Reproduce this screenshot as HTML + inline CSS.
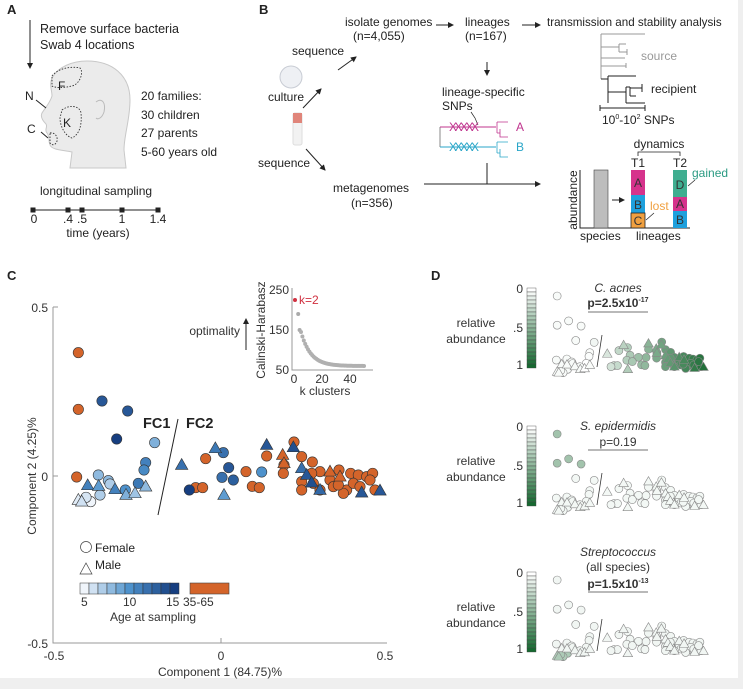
<!DOCTYPE html>
<html><head><meta charset="utf-8"><style>
html,body{margin:0;padding:0;background:#efefef;}
svg{display:block;font-family:"Liberation Sans",sans-serif;}
</style></head><body>
<svg id="s" width="743" height="689" viewBox="0 0 743 689" xmlns="http://www.w3.org/2000/svg">
<defs>
<marker id="ah" markerWidth="6" markerHeight="6" refX="5" refY="3" orient="auto" markerUnits="userSpaceOnUse"><path d="M0,0 L6,3 L0,6 z" fill="#222"/></marker>
</defs>
<rect x="0" y="0" width="738" height="678" fill="#fff"/>
<g font-size="12" fill="#222">
<!-- Panel A -->
<text x="7" y="14" font-weight="bold" font-size="13">A</text>
<line x1="30" y1="20" x2="30" y2="68" stroke="#222" stroke-width="1" marker-end="url(#ah)"/>
<text x="40" y="33" font-size="12.5">Remove surface bacteria</text>
<text x="40" y="49" font-size="12.5">Swab 4 locations</text>
<path d="M87,61 C112,61 130,75 130,100 C130,120 124,135 124,150 L126,168 L70,168 L72,152 C62,150 52,150 50,145 C48,140 50,137 47,133 C44,130 48,127 46,124 C43,121 40,117 42,113 C45,108 50,103 52,96 C52,90 49,85 52,78 C58,67 72,61 87,61 Z" fill="#ebebeb" stroke="#c8c8c8" stroke-width="1"/>
<path d="M96,102 C102,97 106,103 104,112 C102,118 98,120 96,118" fill="none" stroke="#bbb"/>
<path d="M52,76 C58,68 72,66 80,68 C84,72 80,84 72,86 C64,88 55,88 52,86 Z" fill="none" stroke="#333" stroke-dasharray="1.5,1.5" stroke-width="0.9"/>
<path d="M62,110 C70,104 80,106 81,113 C82,124 80,134 72,138 C65,136 60,126 60,118 Z" fill="none" stroke="#333" stroke-dasharray="1.5,1.5" stroke-width="0.9"/>
<path d="M50,133 C55,132 58,137 57,141 C56,145 52,146 50,143 Z" fill="none" stroke="#333" stroke-dasharray="1.5,1.5" stroke-width="0.9"/>
<text x="58" y="90">F</text><text x="25" y="100">N</text><text x="63" y="127">K</text><text x="27" y="133">C</text>
<line x1="36" y1="100" x2="46" y2="108" stroke="#222"/>
<line x1="41" y1="132" x2="48" y2="138" stroke="#222"/>
<text x="141" y="100">20 families:</text>
<text x="141" y="119">30 children</text>
<text x="141" y="137">27 parents</text>
<text x="141" y="156">5-60 years old</text>
<text x="40" y="195">longitudinal sampling</text>
<line x1="33" y1="210" x2="158" y2="210" stroke="#222"/>
<g fill="#222"><rect x="30.5" y="207.5" width="5" height="5"/><rect x="65.5" y="207.5" width="5" height="5"/><rect x="79.5" y="207.5" width="5" height="5"/><rect x="119.5" y="207.5" width="5" height="5"/><rect x="155.5" y="207.5" width="5" height="5"/></g>
<g text-anchor="middle"><text x="34" y="223">0</text><text x="68" y="223">.4</text><text x="82" y="223">.5</text><text x="122" y="223">1</text><text x="158" y="223">1.4</text><text x="98" y="237">time (years)</text></g>

<!-- Panel B -->
<text x="259" y="14" font-weight="bold" font-size="13">B</text>
<text x="345" y="26">isolate genomes</text>
<text x="353" y="40">(n=4,055)</text>
<line x1="436" y1="25" x2="453" y2="25" stroke="#222" marker-end="url(#ah)"/>
<text x="465" y="26">lineages</text><text x="465" y="40">(n=167)</text>
<line x1="522" y1="25" x2="540" y2="25" stroke="#222" marker-end="url(#ah)"/>
<text x="547" y="26" font-size="11.6">transmission and stability analysis</text>
<text x="292" y="55">sequence</text>
<line x1="338" y1="70" x2="356" y2="57" stroke="#222" marker-end="url(#ah)"/>
<circle cx="291" cy="77" r="11" fill="#eef0f4" stroke="#c8ccd4"/>
<text x="268" y="101">culture</text>
<line x1="303" y1="108" x2="321" y2="89" stroke="#222" marker-end="url(#ah)"/>
<rect x="293" y="113" width="9" height="32" rx="2" fill="#f2f2f2" stroke="#ddd"/>
<rect x="293" y="113" width="9" height="10" fill="#e0857a"/>
<text x="258" y="167">sequence</text>
<line x1="306" y1="149" x2="325" y2="170" stroke="#222" marker-end="url(#ah)"/>
<text x="333" y="192">metagenomes</text><text x="351" y="207">(n=356)</text>
<line x1="487" y1="62" x2="487" y2="75" stroke="#222" marker-end="url(#ah)"/>
<text x="442" y="96">lineage-specific</text><text x="442" y="110">SNPs</text>
<path d="M471,112 L475,118 L478,125" fill="none" stroke="#222" stroke-width="0.7"/>
<path d="M440,127 L440,147" stroke="#888"/>
<line x1="440" y1="127" x2="496" y2="127" stroke="#c0348e"/>
<line x1="440" y1="147" x2="496" y2="147" stroke="#2aa6c8"/>
<text x="449" y="131" fill="#c0348e" font-size="12" letter-spacing="-2.5">XXXXX</text>
<text x="449" y="151" fill="#2aa6c8" font-size="12" letter-spacing="-2.5">XXXXX</text>
<path d="M497,122 L497,133 M497,122 L508,122 M497,133 L500,133 L500,129 M500,133 L500,137 L508,137" fill="none" stroke="#c0348e" stroke-width="0.8"/>
<path d="M497,142 L497,153 M497,142 L508,142 M497,153 L500,153 L500,149 M500,153 L500,157 L508,157" fill="none" stroke="#2aa6c8" stroke-width="0.8"/>
<text x="516" y="131" fill="#c0348e">A</text><text x="516" y="151" fill="#2aa6c8">B</text>
<line x1="487" y1="163" x2="487" y2="184" stroke="#222"/>
<line x1="424" y1="184" x2="540" y2="184" stroke="#222" marker-end="url(#ah)"/>
<!-- transmission tree -->
<path d="M601,34 L645,34 M601,34 L601,79 M601,47 L619,47 M619,44 L619,52 M619,44 L626,44 M619,52 L627,52 M627,49 L627,55 M601,58 L625,58 M601,66 L626,66 M626,63 L626,68" fill="none" stroke="#999" stroke-width="1"/>
<path d="M601,79 L608,79 M608,76 L608,103 M608,76 L636,76 M608,92 L626,92 M626,87 L626,103 M626,87 L630,87 M626,103 L645,103 M630,87 L630,96 M630,96 L636,96 M630,88 L642,88 M642,84 L642,92" fill="none" stroke="#222" stroke-width="1"/>
<text x="641" y="60" fill="#999">source</text>
<text x="651" y="93">recipient</text>
<path d="M600,105 L600,111 M600,108 L645,108 M645,105 L645,111" stroke="#222" fill="none"/>
<text x="602" y="124">10<tspan font-size="7" dy="-5">0</tspan><tspan dy="5">-10</tspan><tspan font-size="7" dy="-5">2</tspan><tspan dy="5"> SNPs</tspan></text>
<!-- dynamics -->
<text x="659" y="148" text-anchor="middle">dynamics</text>
<path d="M638,156 L638,152 L680,152 L680,156" fill="none" stroke="#222" stroke-width="0.8"/>
<text x="638" y="167" text-anchor="middle">T1</text><text x="680" y="167" text-anchor="middle">T2</text>
<path d="M580,170 L580,228 L690,228" fill="none" stroke="#222"/>
<text transform="translate(577,200) rotate(-90)" text-anchor="middle">abundance</text>
<rect x="594" y="170" width="14" height="58" fill="#bdbdbd" stroke="#444" stroke-width="0.6"/>
<line x1="612" y1="200" x2="624" y2="200" stroke="#222" marker-end="url(#ah)"/>
<rect x="631" y="170" width="14" height="25" fill="#d6338c"/>
<rect x="631" y="195" width="14" height="18" fill="#1ea0dd"/>
<rect x="631" y="213" width="14" height="15" fill="#f0a040" stroke="#222" stroke-width="0.8"/>
<rect x="673" y="170" width="14" height="27" fill="#3fae90"/>
<rect x="673" y="197" width="14" height="14" fill="#d6338c"/>
<rect x="673" y="211" width="14" height="17" fill="#1ea0dd"/>
<g text-anchor="middle" fill="#333"><text x="638" y="187">A</text><text x="638" y="209">B</text><text x="638" y="225">C</text><text x="680" y="189">D</text><text x="680" y="208">A</text><text x="680" y="224">B</text></g>
<text x="650" y="210" fill="#f0a040">lost</text>
<line x1="654" y1="213" x2="646" y2="220" stroke="#222" stroke-width="0.7"/>
<text x="692" y="177" fill="#2a9a82">gained</text>
<line x1="695" y1="180" x2="688" y2="186" stroke="#222" stroke-width="0.7"/>
<text x="580" y="240">species</text><text x="636" y="240">lineages</text>

<!-- Panel C -->
<text x="7" y="280" font-weight="bold" font-size="13">C</text>
<path d="M53,307 L53,643 L387,643" fill="none" stroke="#999"/>
<path d="M53,307 L58,307 M53,476 L58,476 M221,643 L221,638" stroke="#999"/>
<g text-anchor="end" fill="#333"><text x="48" y="312">0.5</text><text x="48" y="481">0</text><text x="48" y="648">-0.5</text></g>
<g text-anchor="middle" fill="#333"><text x="54" y="660">-0.5</text><text x="221" y="660">0</text><text x="385" y="660">0.5</text>
<text x="220" y="676">Component 1 (84.75)%</text>
<text transform="translate(36,476) rotate(-90)">Component 2 (4.25)%</text></g>
<path d="M292,288 L292,370 L373,370" fill="none" stroke="#999"/>
<g text-anchor="end" fill="#333"><text x="289" y="294">250</text><text x="289" y="334">150</text><text x="289" y="374">50</text></g>
<g text-anchor="middle" fill="#333"><text x="294" y="383">0</text><text x="322" y="383">20</text><text x="350" y="383">40</text><text x="325" y="395">k clusters</text>
<text transform="translate(265,330) rotate(-90)">Calinski-Harabasz</text></g>
<text x="240" y="335" text-anchor="end" fill="#333">optimality</text>
<line x1="246" y1="350" x2="246" y2="319" stroke="#222" marker-end="url(#ah)"/>
<circle cx="295" cy="300" r="2" fill="#d03040"/>
<text x="299" y="304" fill="#d03040">k=2</text>
<g id="inset"></g>
<text x="143" y="428" font-weight="bold" font-size="14.5">FC1</text>
<text x="186" y="428" font-weight="bold" font-size="14.5">FC2</text>
<line x1="178" y1="419" x2="158" y2="515" stroke="#222"/>
<g id="cpts"></g>
<circle cx="86" cy="547" r="5.5" fill="#fff" stroke="#444" stroke-width="0.7"/>
<text x="95" y="552">Female</text>
<path d="M80,574 L86,563 L92,574 Z" fill="#fff" stroke="#444" stroke-width="0.7"/>
<text x="95" y="569">Male</text>
<g id="cbar"></g>
<rect x="190" y="583" width="39" height="11" fill="#d4642a" stroke="#444" stroke-width="0.6"/>
<g fill="#333"><text x="81" y="606">5</text><text x="123" y="606">10</text><text x="166" y="606">15</text><text x="183" y="606">35-65</text>
<text x="110" y="621">Age at sampling</text></g>

<!-- Panel D -->
<text x="431" y="280" font-weight="bold" font-size="13">D</text>
<g id="dpanels"></g>
<g text-anchor="middle" fill="#333">
<text x="618" y="292" font-style="italic">C. acnes</text>
<text x="618" y="307" font-weight="bold">p=2.5x10<tspan font-size="7" dy="-5">-17</tspan></text>
<text x="618" y="430" font-style="italic">S. epidermidis</text>
<text x="618" y="446">p=0.19</text>
<text x="618" y="556" font-style="italic">Streptococcus</text>
<text x="618" y="571">(all species)</text>
<text x="618" y="588" font-weight="bold">p=1.5x10<tspan font-size="7" dy="-5">-13</tspan></text>
</g>
<g stroke="#444" stroke-width="0.8"><line x1="588" y1="312" x2="648" y2="312"/><line x1="588" y1="450" x2="648" y2="450"/><line x1="588" y1="592" x2="648" y2="592"/></g>
</g>
<script>
var NS="http://www.w3.org/2000/svg";
function el(p,t,a){var e=document.createElementNS(NS,t);for(var k in a)e.setAttribute(k,a[k]);p.appendChild(e);return e;}
function mix(a,b,t){return "rgb("+[0,1,2].map(function(i){return Math.round(a[i]+(b[i]-a[i])*t)}).join(",")+")";}
var W=[240,245,251],M=[78,146,204],B=[22,62,128];
function blue(t){return t<0.5?mix(W,M,t*2):mix(M,B,(t-0.5)*2);}
var ins=document.getElementById("inset");
[[3,190],[4,150]].forEach(function(p){el(ins,"circle",{cx:294+p[0]*1.4,cy:370-(p[1]-50)*0.4,r:2,fill:"#aaa"});});
for(var k=5;k<=50;k++){var v=60+85*Math.exp(-(k-5)/7);el(ins,"circle",{cx:294+k*1.4,cy:370-(v-50)*0.4,r:2,fill:"#b0b0b0"});}
var P=[
[235,278,'c','o'],[235,448,'c','o'],[230,651,'c','o'],[617,596,'c','o'],[587,683,'c','o'],[608,683,'c','o'],[738,635,'c','o'],[757,679,'c','o'],[778,683,'c','o'],[800,588,'c','o'],[882,546,'c','o'],[852,615,'c','o'],[905,590,'c','o'],[937,606,'c','o'],[960,635,'c','o'],[1017,630,'c','o'],[1052,640,'c','o'],[1075,645,'c','o'],[1100,650,'c','o'],[1118,640,'c','o'],[905,665,'c','o'],[940,670,'c','o'],[990,660,'c','o'],[1000,680,'c','o'],[1040,690,'c','o'],[1060,670,'c','o'],[1080,680,'c','o'],[1125,690,'c','o'],[905,690,'c','o'],[960,690,'c','o'],[1030,700,'c','o'],[850,640,'c','o'],[935,640,'c','o'],[1110,660,'c','o'],[1015,675,'c','o'],
[848,585,'t','o'],[852,610,'t','o'],[990,635,'t','o'],[1020,650,'t','o'],
[306,423,'c',.85],[383,453,'c',.85],[350,537,'c',1],[464,548,'c',.35],[437,608,'c',.6],[432,630,'c',.55],[415,670,'c',.65],[295,645,'c',.3],[325,662,'c',.3],[330,672,'c',.2],[376,690,'c',.5],[300,705,'c',.2],[272,725,'c',0],[258,712,'c',.08],[568,690,'c',1],[670,578,'c',.7],[686,623,'c',.85],[666,652,'c',.7],[700,660,'c',.8],[785,636,'c',.5],
[263,676,'t',.6],[296,678,'t',.45],[345,688,'t',.6],[378,705,'t',.35],[405,700,'t',.25],[437,680,'t',.3],[545,615,'t',.7],[646,565,'t',.65],[672,705,'t',.45],[800,555,'t',.85],[880,562,'t',.9],[905,625,'t',.7],[920,645,'t',.85],[935,668,'t',.9],[960,690,'t',.75],[1085,698,'t',.85],[1140,692,'t',.85],[235,720,'t',.05],[245,725,'t',.1]
];
function mark(g,x,y,r,t,fill,stroke,sw){
 if(t=='c')el(g,"circle",{cx:x,cy:y,r:r,fill:fill,stroke:stroke,"stroke-width":sw});
 else el(g,"path",{d:"M"+(x-r*1.2)+","+(y+r*0.85)+" L"+x+","+(y-r*1.25)+" L"+(x+r*1.2)+","+(y+r*0.85)+" Z",fill:fill,stroke:stroke,"stroke-width":sw});
}
var cg=document.getElementById("cpts");
P.forEach(function(p){var f=p[3]=='o'?"#d4642a":blue(p[3]);mark(cg,p[0]/3,260+p[1]/3,5.2,p[2],f,"#333",0.6);});
var cb=document.getElementById("cbar");
for(var i=0;i<11;i++)el(cb,"rect",{x:80+i*9,y:583,width:9,height:11,fill:blue(i/10),stroke:"#333","stroke-width":0.5});
var dp=document.getElementById("dpanels");
var G0=[255,255,255],G1=[22,105,48];
var tops=[288,426,572];
tops.forEach(function(top,pi){
 for(var i=0;i<20;i++)el(dp,"rect",{x:527,y:top+i*4,width:9,height:4,fill:mix(G0,G1,i/19),stroke:"#444","stroke-width":0.4});
 el(dp,"text",{x:523,y:top+5,"text-anchor":"end",fill:"#333"}).textContent="0";
 el(dp,"text",{x:523,y:top+44,"text-anchor":"end",fill:"#333"}).textContent=".5";
 el(dp,"text",{x:523,y:top+81,"text-anchor":"end",fill:"#333"}).textContent="1";
 el(dp,"text",{x:476,y:top+39,"text-anchor":"middle",fill:"#333"}).textContent="relative";
 el(dp,"text",{x:476,y:top+55,"text-anchor":"middle",fill:"#333"}).textContent="abundance";
 var off=[0,138,284][pi];
 P.forEach(function(p){
  var x=410+(440+(p[0]-232)*0.485)/3, y=260+(108+(p[1]-278)*0.515)/3+off;
  var t=0;
  if(pi==0){t=Math.max(0,Math.min(1,(p[0]-420)/720))*0.95; if(p[0]<400)t=0.03;}
  else if(pi==1){t=(p[1]<470)?0.4:0.05;}
  else {t=(p[1]>690&&p[0]<330)?0.35:0.06;}
  mark(dp,x,y,4,p[2],mix(G0,G1,t),"#888",0.6);
 });
 el(dp,"line",{x1:602,y1:335+off,x2:597,y2:367+off,stroke:"#333","stroke-width":0.8});
});
</script>
</svg>
</body></html>
